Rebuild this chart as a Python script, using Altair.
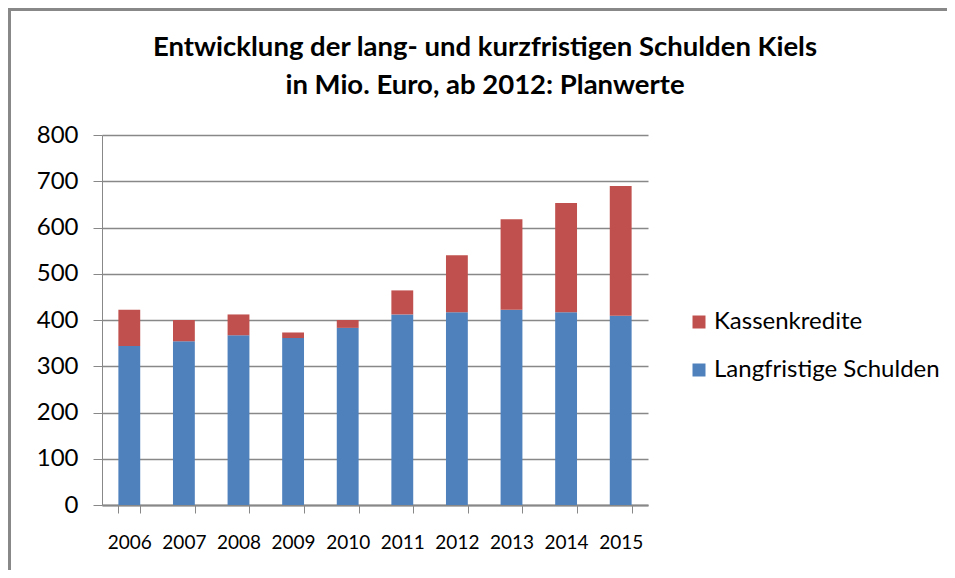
import altair as alt
import pandas as pd

years = ["2006", "2007", "2008", "2009", "2010", "2011", "2012", "2013", "2014", "2015"]
langfristig = [344, 354, 367, 361, 383, 412, 417, 422, 417, 409]
kassen_total = [422, 400, 412, 373, 400, 464, 540, 618, 653, 690]
kassen = [t - l for t, l in zip(kassen_total, langfristig)]

series = ["Kassenkredite", "Langfristige Schulden"]
colors = ["#C0504D", "#4F81BD"]

title_lines = ["Entwicklung der lang- und kurzfristigen Schulden Kiels",
               "in Mio. Euro, ab 2012: Planwerte"]

rows = []
for y, l, k in zip(years, langfristig, kassen):
    rows.append({"Jahr": y, "Serie": "Langfristige Schulden", "Wert": l, "ord": 0})
    rows.append({"Jahr": y, "Serie": "Kassenkredite", "Wert": k, "ord": 1})
df = pd.DataFrame(rows)

FONT = "Lato"

bars = alt.Chart(df).mark_bar().encode(
    x=alt.X("Jahr:N", sort=years,
            scale=alt.Scale(paddingInner=0.6, paddingOuter=0.3),
            axis=alt.Axis(title=None, labelAngle=0, labelFontSize=19, labelFont=FONT,
                          labelColor="#000", labelPadding=20, tickSize=8, tickColor="#888",
                          domainColor="#888", domainWidth=2, tickBand="extent",
                          ticks=True)),
    y=alt.Y("Wert:Q", stack="zero",
            scale=alt.Scale(domain=[0, 800], nice=False),
            axis=alt.Axis(title=None, values=list(range(0, 801, 100)), labelFontSize=24,
                          labelFont=FONT, labelColor="#000", labelPadding=15, tickSize=9,
                          tickColor="#888", domainColor="#888", gridColor="#888",
                          gridWidth=1.3)),
    color=alt.Color("Serie:N", scale=alt.Scale(domain=series, range=colors),
                    legend=alt.Legend(title=None, orient="none", legendX=585, legendY=175,
                                      symbolType="square", symbolSize=169, symbolStrokeWidth=0,
                                      labelFontSize=24, labelFont=FONT, labelColor="#000",
                                      labelOffset=3, rowPadding=24, labelLimit=400)),
    order=alt.Order("ord:Q", sort="ascending"),
)

border_df = pd.DataFrame({"a": [0]})
top_border = alt.Chart(border_df).mark_rule(color="#888", strokeWidth=3, clip=False).encode(
    x=alt.value(-94), x2=alt.value(860), y=alt.value(-125.5), y2=alt.value(-125.5)
)
left_border = alt.Chart(border_df).mark_rule(color="#888", strokeWidth=3, clip=False).encode(
    x=alt.value(-92.5), x2=alt.value(-92.5), y=alt.value(-127), y2=alt.value(460)
)

title1 = alt.Chart(border_df).mark_text(
    text=title_lines[0], font=FONT, fontSize=27.5, fontWeight="bold", color="#000",
    align="center", baseline="middle", clip=False
).encode(x=alt.value(383), y=alt.value(-87))
title2 = alt.Chart(border_df).mark_text(
    text=title_lines[1], font=FONT, fontSize=27.5, fontWeight="bold", color="#000",
    align="center", baseline="middle", clip=False
).encode(x=alt.value(383), y=alt.value(-49))

chart = alt.layer(bars, top_border, left_border, title1, title2).properties(
    width=546, height=370,
    autosize=alt.AutoSizeParams(type="none"),
    padding={"left": 94, "top": 127, "right": 299, "bottom": 65},
).configure_view(stroke=None).configure_axis(grid=True).configure_axisX(grid=False)

chart.save("out.html", embed_options={"renderer": "svg", "actions": False})
